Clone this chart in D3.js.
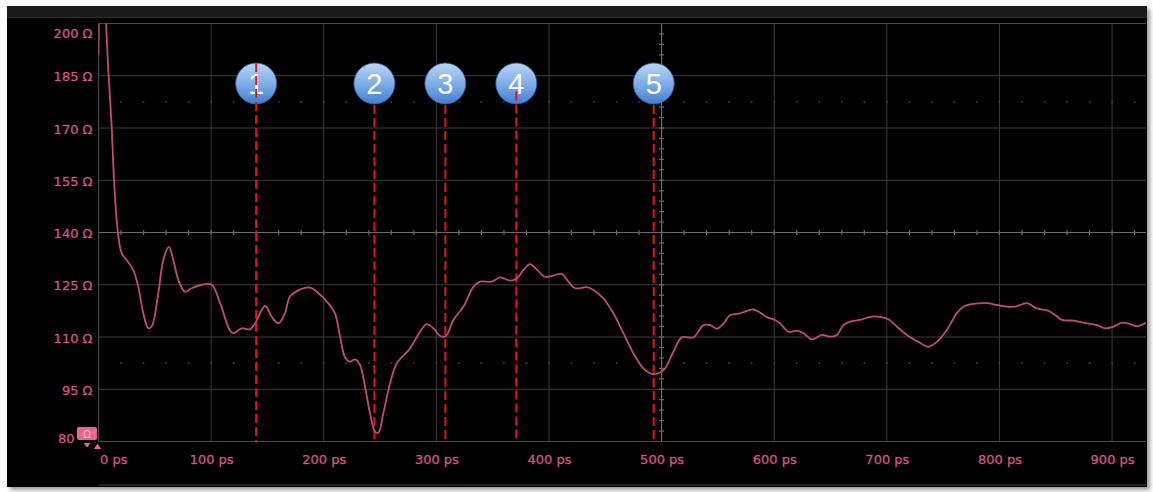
<!DOCTYPE html>
<html>
<head>
<meta charset="utf-8">
<script src="https://cdn.jsdelivr.net/npm/d3@7"></script>
<style>
  html, body { margin: 0; padding: 0; background: #ffffff; }
  svg { display: block; }
</style>
</head>
<body>
<svg id="chart" width="1153" height="492"></svg>
<script>
// TDR impedance trace (ohms vs. time in ps)
const timePs = [
  0, 1.5, 4, 6.7, 8.7, 11.7, 13.8, 17, 20.6, 25, 30.9, 35.3, 39.8, 44.2, 47.2,
  53.1, 57.5, 62.5, 66.4, 70.9, 76.8, 82.8, 91.6, 100.5, 108, 116.8, 119.7,
  127.2, 134.5, 139, 147.9, 153.8, 159.7, 165.6, 170, 177.4, 187.8, 193.8,
  204.1, 210, 214.5, 218.9, 223.3, 227.8, 232.2, 236.7, 241.1, 245.6, 248.5,
  252.9, 258.9, 264.8, 276.6, 285.5, 291.5, 297.3, 303.3, 308.6, 315.1, 324,
  332.9, 338.8, 349.2, 356.6, 365.5, 371.4, 377.3, 383.2, 389.1, 396.5, 402.5,
  411.3, 417.2, 423.2, 433.6, 439.5, 448.3, 457.2, 466.1, 475, 483.8, 491.3,
  497.2, 503.1, 510.5, 517.9, 528.2, 537.1, 543.1, 549, 555.1, 561, 569.9,
  575.7, 581.5, 586, 593.4, 600.8, 605.2, 612.6, 620, 626, 633.4, 642.3, 649.6,
  655.6, 661.5, 667.4, 676.3, 685.2, 694, 701.4, 708.8, 717.7, 728.1, 737,
  744.4, 753.3, 762.1, 768, 776.9, 788.8, 797.7, 806.5, 813.9, 824.3, 833.2,
  843.5, 849.5, 855.4, 865.7, 874.6, 886.5, 893.9, 901.3, 908.7, 916.1, 922, 930
];
const impedanceOhm = [
  191, 212, 218, 200, 186.6, 170.4, 155, 140.7, 134, 132.1, 129.2, 124.4, 116.8, 112.5, 113,
  122.5, 132.1, 135.9, 132.1, 126.4, 123, 124, 125, 125, 119.7, 111.8, 111.1,
  112.5, 112.2, 113.9, 118.9, 115.8, 113.9, 116.8, 121.6, 123.4, 124.2, 123,
  119.7, 116.8, 110.1, 104.2, 102.9, 103.6, 102, 95.7, 88.1, 82.8, 82.5,
  88.1, 96.7, 102.4, 106.7, 111.5, 113.7, 112.5, 110.3, 110.3, 114.9, 118.7,
  124.4, 125.9, 125.9, 127.1, 126.2, 126.8, 129.2, 130.9, 129.4, 127.3, 127.5,
  128.1, 125.9, 124, 124.3, 123.5, 121.1, 116.8, 111.1, 105.3, 101, 99.4,
  99.6, 101, 105.8, 109.9, 109.9, 113.4, 113.4, 112.4, 113.9, 116.3, 116.8,
  117.5, 117.9, 117.3, 115.7, 114.9, 113.9, 111.5, 111.8, 111.1, 109.3, 110.6, 110.1,
  110.6, 113.4, 114.4, 114.9, 115.8, 115.8, 115.1, 113, 110.6, 108.6, 107.2,
  108.6, 112, 116.8, 118.7, 119.5, 119.7, 119.2, 118.7, 118.7, 119.7, 118.2,
  117.5, 116.3, 114.9, 114.7, 114.1, 113.4, 112.5, 113, 114.1, 113.7, 113.1, 114.1
];

// Numbered cursor markers (ps)
const markerIds = ["1", "2", "3", "4", "5"];
const markerPs = [140, 245, 308, 371, 493];

// Axis ticks
const xTickPs = [0, 100, 200, 300, 400, 500, 600, 700, 800, 900];
const yTickOhm = [80, 95, 110, 125, 140, 155, 170, 185, 200];

const svg = d3.select("#chart");
const plotL = 98.5, plotR = 1146, plotT = 23.5, plotB = 441.5;
const x = d3.scaleLinear().domain([0, 930]).range([plotL, plotL + 930 * 1.1262]);
const y = d3.scaleLinear().domain([80, 200]).range([plotB, plotT]);

const defs = svg.append("defs");
defs.append("filter").attr("id", "shadow").attr("x", "-5%").attr("y", "-5%")
  .attr("width", "110%").attr("height", "110%")
  .append("feGaussianBlur").attr("stdDeviation", 2);
defs.append("clipPath").attr("id", "plotClip")
  .append("rect").attr("x", plotL).attr("y", plotT).attr("width", plotR - plotL).attr("height", plotB - plotT);
const grad = defs.append("linearGradient").attr("id", "bubble")
  .attr("x1", 0).attr("y1", 0).attr("x2", 0).attr("y2", 1);
grad.append("stop").attr("offset", "0%").attr("stop-color", "#b9d5f6");
grad.append("stop").attr("offset", "45%").attr("stop-color", "#86b2ea");
grad.append("stop").attr("offset", "100%").attr("stop-color", "#3f7fd2");

// Instrument panel
svg.append("rect").attr("x", 10).attr("y", 9).attr("width", 1140).attr("height", 481)
  .attr("fill", "#9a9a9a").attr("filter", "url(#shadow)");
svg.append("rect").attr("x", 7).attr("y", 6).attr("width", 1140).attr("height", 481).attr("fill", "#000");
svg.append("rect").attr("x", 7).attr("y", 6).attr("width", 1140).attr("height", 11).attr("fill", "#1b1b1b");
svg.append("line").attr("x1", 7).attr("x2", 1147).attr("y1", 17.5).attr("y2", 17.5)
  .attr("stroke", "#1f3439").attr("stroke-width", 1);
svg.append("line").attr("x1", plotL).attr("x2", 1147).attr("y1", 485).attr("y2", 485)
  .attr("stroke", "#2c2c2c").attr("stroke-width", 1.5);

// Grid
const grid = svg.append("g");
grid.selectAll("line.v").data(xTickPs.filter(d => d > 0 && d !== 500)).join("line")
  .attr("x1", d => x(d)).attr("x2", d => x(d)).attr("y1", plotT).attr("y2", plotB)
  .attr("stroke", "#3c3c3c").attr("stroke-width", 1);
grid.selectAll("line.h").data(yTickOhm.filter(d => d > 80 && d < 200 && d !== 140)).join("line")
  .attr("x1", plotL).attr("x2", plotR).attr("y1", d => y(d)).attr("y2", d => y(d))
  .attr("stroke", "#3c3c3c").attr("stroke-width", 1);

// Dotted sub-division rows
const dotPs = d3.range(20, 930, 20);
[177.5, 102.5].forEach(v => {
  grid.append("g").selectAll("rect").data(dotPs).join("rect")
    .attr("x", d => x(d) - 0.75).attr("y", y(v) - 0.75).attr("width", 1.5).attr("height", 1.5)
    .attr("fill", "#4a4a4a");
});

// Center cross-hair lines with minor ticks
grid.append("line").attr("x1", plotL).attr("x2", plotR).attr("y1", y(140)).attr("y2", y(140))
  .attr("stroke", "#6a6a6a").attr("stroke-width", 1.2);
grid.append("g").selectAll("line").data(dotPs).join("line")
  .attr("x1", d => x(d)).attr("x2", d => x(d)).attr("y1", y(140) - 2.5).attr("y2", y(140) + 2.5)
  .attr("stroke", "#6a6a6a").attr("stroke-width", 1.2);
grid.append("line").attr("x1", x(500)).attr("x2", x(500)).attr("y1", plotT).attr("y2", plotB)
  .attr("stroke", "#6a6a6a").attr("stroke-width", 1.2);
grid.append("g").selectAll("line").data(d3.range(83, 200, 3)).join("line")
  .attr("x1", x(500) - 2.5).attr("x2", x(500) + 2.5).attr("y1", d => y(d)).attr("y2", d => y(d))
  .attr("stroke", "#6a6a6a").attr("stroke-width", 1.2);

// Plot frame
grid.append("line").attr("x1", plotL).attr("x2", plotR).attr("y1", plotT).attr("y2", plotT)
  .attr("stroke", "#4a4a4a").attr("stroke-width", 1.2);
grid.append("line").attr("x1", plotL).attr("x2", plotL).attr("y1", plotT).attr("y2", plotB)
  .attr("stroke", "#4a4a4a").attr("stroke-width", 1.2);
grid.append("line").attr("x1", plotL).attr("x2", plotR).attr("y1", plotB).attr("y2", plotB)
  .attr("stroke", "#4a4a4a").attr("stroke-width", 1.2);

// Cursor markers
const markers = markerIds.map((id, i) => ({ id, ps: markerPs[i] }));
const cy = 83.5, r = 20.5;
const mg = svg.append("g");
mg.selectAll("circle").data(markers).join("circle")
  .attr("cx", d => x(d.ps)).attr("cy", cy).attr("r", r)
  .attr("fill", "url(#bubble)").attr("stroke", "#2f5f9e").attr("stroke-width", 0.8);
mg.selectAll("text").data(markers).join("text")
  .attr("x", d => x(d.ps)).attr("y", cy + 10)
  .attr("text-anchor", "middle")
  .attr("font-family", "'Liberation Sans', Arial, sans-serif").attr("font-size", 29)
  .attr("fill", "#ffffff").text(d => d.id);
const lineTop = (d, i) => i === 0 ? cy - r : (i === 3 ? cy + 8 : cy + r + 1);
mg.selectAll("line").data(markers).join("line")
  .attr("x1", d => x(d.ps)).attr("x2", d => x(d.ps))
  .attr("y1", lineTop).attr("y2", plotB)
  .attr("stroke", "#e8141a").attr("stroke-width", 2).attr("stroke-dasharray", "9,4");

// Impedance trace
const pts = timePs.map((t, i) => [t, impedanceOhm[i]]);
const line = d3.line().x(d => x(d[0])).y(d => y(d[1])).curve(d3.curveCatmullRom.alpha(0.5));
svg.append("path").datum(pts).attr("d", line)
  .attr("clip-path", "url(#plotClip)")
  .attr("fill", "none").attr("stroke", "#c24c6c").attr("stroke-width", 1.8)
  .attr("stroke-linejoin", "round");

// Axes
const labelColor = "#d2587f";
const styleLabels = sel => sel
  .attr("font-family", "'DejaVu Sans', sans-serif").attr("font-size", 13)
  .attr("fill", labelColor).attr("stroke", "#8a3352").attr("stroke-width", 0.45)
  .attr("paint-order", "stroke");

const yAxis = svg.append("g").attr("transform", `translate(${plotL - 6},0)`)
  .call(d3.axisLeft(y).tickValues(yTickOhm).tickSize(0).tickPadding(0)
    .tickFormat(d => d === 80 ? "80" : d + " Ω"));
yAxis.select(".domain").remove();
yAxis.selectAll("text").call(styleLabels)
  .attr("dy", d => d === 200 ? "1.05em" : (d === 80 ? "0.05em" : "0.4em"))
  .attr("dx", d => d === 80 ? -18 : 0);

const xAxis = svg.append("g").attr("transform", `translate(0,${plotB})`)
  .call(d3.axisBottom(x).tickValues(xTickPs).tickSize(0).tickPadding(13)
    .tickFormat(d => d + " ps"));
xAxis.select(".domain").remove();
xAxis.selectAll("text").call(styleLabels)
  .attr("text-anchor", d => d === 0 ? "start" : "middle")
  .attr("dx", d => d === 0 ? 1 : 0);

// Reference-level flag at the axis origin
const flag = svg.append("g");
flag.append("rect").attr("x", 77).attr("y", 427).attr("width", 20).attr("height", 13).attr("rx", 2)
  .attr("fill", "#e2698f");
flag.append("text").attr("x", 87).attr("y", 437.5).attr("text-anchor", "middle")
  .attr("font-family", "'DejaVu Sans', sans-serif").attr("font-size", 10)
  .attr("fill", "#f4b3c6").text("Ω");
flag.append("path").attr("d", "M83.5,443 L90.5,443 L87,447.5 Z").attr("fill", "#e2698f");
flag.append("path").attr("d", "M94,449 L101,449 L97.5,443.5 Z").attr("fill", "#e2698f");
</script>
</body>
</html>
